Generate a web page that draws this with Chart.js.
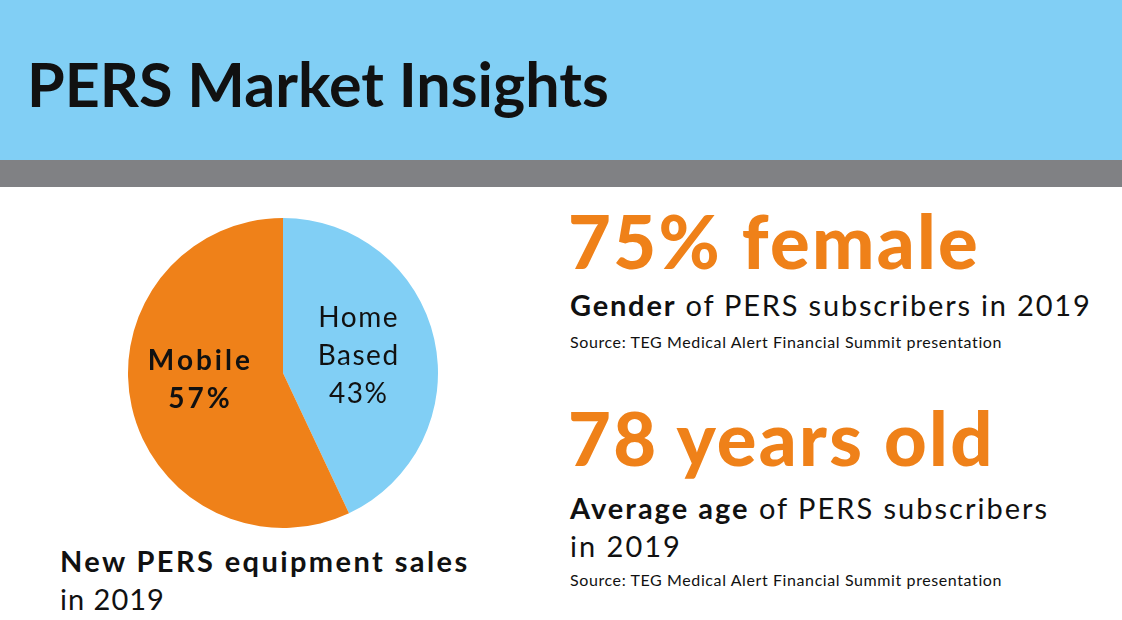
<!DOCTYPE html>
<html>
<head>
<meta charset="utf-8">
<script src="https://cdn.jsdelivr.net/npm/chart.js@4/dist/chart.umd.min.js"></script>
<style>
    html, body { margin: 0; padding: 0; }
    body { width: 1122px; height: 620px; position: relative; overflow: hidden; background: #fff; font-family: Lato, "Open Sans", sans-serif; color: #111; }
    .band { position: absolute; left: 0; width: 1122px; }
    .txt { position: absolute; white-space: nowrap; line-height: 1; }
    .big { font-size: 74px; font-weight: 900; color: #ef8119; letter-spacing: 2.3px; }
    .sub { font-size: 29px; letter-spacing: 2px; }
    .src { font-size: 16px; letter-spacing: 0.6px; }
    #chartBox { position: absolute; left: 118px; top: 208px; width: 330px; height: 330px; }
</style>
</head>
<body>
<div class="band" style="top:0;height:160px;background:#81cff5;"></div>
<div class="band" style="top:160px;height:27px;background:#808184;"></div>

<div class="txt" style="left:27px;top:53px;font-size:61px;font-weight:700;">PERS Market Insights</div>

<div id="chartBox"><canvas id="pieChart"></canvas></div>

<div class="txt" style="left:60px;top:542px;font-size:29px;line-height:38px;">
    <b style="letter-spacing:2.4px;">New PERS equipment sales</b><br><span style="letter-spacing:1px;">in 2019</span>
</div>

<div class="txt big" style="left:568px;top:204px;">75% female</div>
<div class="txt sub" style="left:570px;top:290px;letter-spacing:1.8px;"><b>Gender</b> of PERS subscribers in 2019</div>
<div class="txt src" style="left:570px;top:334px;">Source: TEG Medical Alert Financial Summit presentation</div>

<div class="txt big" style="left:568px;top:401px;">78 years old</div>
<div class="txt sub" style="left:570px;top:489px;line-height:38px;"><b>Average age</b> of PERS subscribers<br>in 2019</div>
<div class="txt src" style="left:570px;top:572px;">Source: TEG Medical Alert Financial Summit presentation</div>

<script>
// Pie data (share of new PERS equipment sales, 2019)
const sliceNames = ['Home Based', 'Mobile'];
const sliceShares = [43, 57];
const sliceLabelLines = [['Home', 'Based', '43%'], ['Mobile', '57%']];

const sliceColors = ['#81cff5', '#ef8119'];

// draws the multi-line labels inside each slice
const sliceLabelPlugin = {
    id: 'sliceLabels',
    afterDatasetsDraw(chart) {
        const ctx = chart.ctx;
        const arcs = chart.getDatasetMeta(0).data;
        ctx.save();
        ctx.fillStyle = '#111';
        ctx.textAlign = 'center';
        ctx.textBaseline = 'middle';
        arcs.forEach((arc, i) => {
            const pos = arc.tooltipPosition();
            const lines = sliceLabelLines[i];
            const bold = i === 1;
            ctx.font = (bold ? '700 ' : '400 ') + '28px Lato, sans-serif';
            ctx.letterSpacing = bold ? '3px' : '1.5px';
            const lh = 38;
            const dx = bold ? -7 : 0;
            const dy = bold ? -10 : 0;
            const y0 = pos.y + dy - (lines.length - 1) * lh / 2;
            lines.forEach((line, j) => ctx.fillText(line, pos.x + dx, y0 + j * lh));
        });
        ctx.restore();
    }
};

window.addEventListener('DOMContentLoaded', () => {
    const ctx = document.getElementById('pieChart').getContext('2d');
    new Chart(ctx, {
        type: 'pie',
        data: {
            labels: sliceNames,
            datasets: [{
                data: sliceShares,
                backgroundColor: sliceColors,
                borderWidth: 0
            }]
        },
        options: {
            responsive: true,
            maintainAspectRatio: false,
            animation: false,
            layout: { padding: 10 },
            plugins: {
                legend: { display: false },
                tooltip: { enabled: false }
            }
        },
        plugins: [sliceLabelPlugin]
    });
});
</script>
</body>
</html>
